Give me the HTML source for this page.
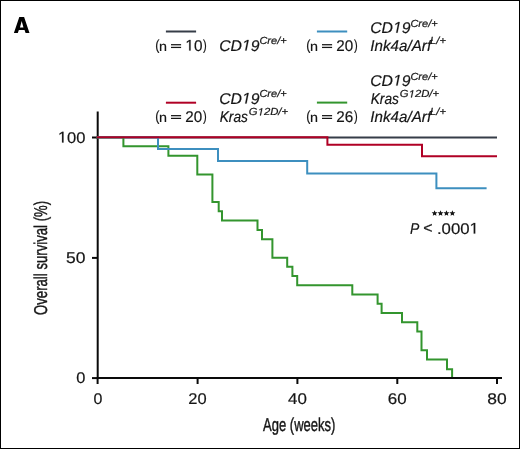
<!DOCTYPE html>
<html><head><meta charset="utf-8"><style>
html,body{margin:0;padding:0;background:#fff;}
body{width:520px;height:449px;overflow:hidden;}
svg{display:block;will-change:transform;}
text{font-family:"Liberation Sans",sans-serif;fill:#151515;text-rendering:geometricPrecision;stroke:#151515;stroke-width:0.2px;}
.ttl{stroke-width:0.4px;}
</style></head><body>
<svg width="520" height="449" viewBox="0 0 520 449">
<rect x="0" y="0" width="520" height="449" fill="#fff"/>
<rect x="0.5" y="0.5" width="519" height="448" fill="none" stroke="#000" stroke-width="1"/>
<path d="M13.9 33 L19.3 17 L24.1 17 L29.5 33 L25.6 33 L24.55 29.9 L18.85 29.9 L17.8 33 Z M21.7 20.9 L19.95 27.6 L23.45 27.6 Z" fill="#000" fill-rule="evenodd"/>
<g stroke-width="2" fill="none">
<path d="M165.9 31.5 H196.1" stroke="#363d48"/>
<path d="M316.9 31.5 H347.2" stroke="#3d8fbf"/>
<path d="M165.9 102.7 H196.1" stroke="#b00025"/>
<path d="M316.9 102.6 H347.2" stroke="#33952e"/>
</g>
<g stroke="#0a0a0a" stroke-width="2" fill="none">
<path d="M97.7 111.5 V379.1"/>
<path d="M92 137.5 H97.6"/>
<path d="M92 257.9 H97.6"/>
<path d="M92 378.1 H97.6"/>
</g>
<text class="ttl" transform="translate(263,430.8) scale(0.724,1.03)" font-size="18">Age (weeks)</text>
<text class="ttl" transform="translate(46.9,315.0) rotate(-90) scale(0.7317,1.03)" font-size="18">Overall survival (%)</text>
<g stroke-width="2" fill="none" stroke-linejoin="miter" stroke-linecap="butt">
<path d="M96.7 137.6 H497.0" stroke="#363d48"/>
<path d="M96.7 137.3 H123.4 V146.3 H168.4 V155.8 H197.3 V174.5 H212.4 V202.0 H218.7 V211.2 H222.0 V220.4 H257.5 V230.1 H262.0 V239.3 H272.4 V257.8 H287.2 V266.7 H292.4 V276.0 H297.2 V285.3 H352.3 V294.5 H377.6 V303.8 H381.6 V313.1 H402.0 V322.3 H417.3 V331.6 H421.5 V350.3 H427.0 V359.6 H447.0 V369.3 H452.1 V378.0" stroke="#33952e"/>
<path d="M96.7 137.3 H158.0 V149.0 H218.0 V161.0 H307.2 V173.4 H436.4 V188.3 H486.6" stroke="#3d8fbf"/>
<path d="M96.7 137.3 H327.4 V144.7 H422.0 V156.3 H497.0" stroke="#b00025"/>
</g>
<g stroke="#0a0a0a" stroke-width="2" fill="none">
<path d="M96.6 378.1 H502"/>
<path d="M97.6 378.1 V384"/>
<path d="M197.6 378.1 V384"/>
<path d="M297.4 378.1 V384"/>
<path d="M397.3 378.1 V384"/>
<path d="M497.0 378.1 V384"/>
</g>
<rect x="171.00" y="44.10" width="10.10" height="1.25" fill="#151515"/><rect x="171.00" y="46.80" width="10.10" height="1.25" fill="#151515"/><rect x="322.00" y="44.10" width="10.10" height="1.25" fill="#151515"/><rect x="322.00" y="46.80" width="10.10" height="1.25" fill="#151515"/><rect x="171.00" y="115.05" width="10.10" height="1.25" fill="#151515"/><rect x="171.00" y="117.75" width="10.10" height="1.25" fill="#151515"/><rect x="322.00" y="115.05" width="10.10" height="1.25" fill="#151515"/><rect x="322.00" y="117.75" width="10.10" height="1.25" fill="#151515"/>
<polygon points="434.60,210.20 435.45,212.13 437.55,212.34 435.98,213.75 436.42,215.81 434.60,214.75 432.78,215.81 433.22,213.75 431.65,212.34 433.75,212.13" fill="#151515"/><polygon points="440.53,210.20 441.38,212.13 443.48,212.34 441.91,213.75 442.35,215.81 440.53,214.75 438.71,215.81 439.15,213.75 437.58,212.34 439.68,212.13" fill="#151515"/><polygon points="446.46,210.20 447.31,212.13 449.41,212.34 447.84,213.75 448.28,215.81 446.46,214.75 444.64,215.81 445.08,213.75 443.51,212.34 445.61,212.13" fill="#151515"/><polygon points="452.39,210.20 453.24,212.13 455.34,212.34 453.77,213.75 454.21,215.81 452.39,214.75 450.57,215.81 451.01,213.75 449.44,212.34 451.54,212.13" fill="#151515"/>
<g id="t0" transform="translate(155.137,49.750) scale(0.8025,0.94)"><text style="font-size:15.5px;">(</text></g>
<g id="t1" transform="translate(159.029,50.550) scale(0.9271,0.86)"><text style="font-size:15.5px;">n</text></g>
<g id="t2" transform="translate(185.356,50.550) scale(0.9894,1.0)"><text style="font-size:15.5px;"> 0</text><path d="M515 0 L515 1237 L197 1010 L197 1180 L530 1409 L696 1409 L696 0 Z" transform="translate(0.000,0) scale(0.00757,-0.00757)" fill="#151515" stroke="#151515" stroke-width="0.2" vector-effect="non-scaling-stroke"/></g>
<g id="t3" transform="translate(202.937,49.750) scale(0.7206,0.94)"><text style="font-size:15.5px;">)</text></g>
<g id="t4" transform="translate(219.195,50.550) scale(1.0186,1.0)"><text style="font-size:15.5px;font-style:italic;">CD 9</text><path d="M412.3 0 L650 1223 L289 1000 L324 1180 L701 1409 L867 1409 L593.3 0 Z" transform="translate(22.387,0) scale(0.00757,-0.00757)" fill="#151515" stroke="#151515" stroke-width="0.2" vector-effect="non-scaling-stroke"/></g>
<g id="t5" transform="translate(259.396,44.450) scale(1.0715,1.0)"><text style="font-size:10.3px;font-style:italic;">Cre/+</text></g>
<g id="t6" transform="translate(306.137,49.750) scale(0.8025,0.94)"><text style="font-size:15.5px;">(</text></g>
<g id="t7" transform="translate(310.029,50.550) scale(0.9271,0.86)"><text style="font-size:15.5px;">n</text></g>
<g id="t8" transform="translate(336.363,50.550) scale(0.9807,1.0)"><text style="font-size:15.5px;">20</text></g>
<g id="t9" transform="translate(353.937,49.750) scale(0.7206,0.94)"><text style="font-size:15.5px;">)</text></g>
<g id="t10" transform="translate(370.195,32.650) scale(1.0186,1.0)"><text style="font-size:15.5px;font-style:italic;">CD 9</text><path d="M412.3 0 L650 1223 L289 1000 L324 1180 L701 1409 L867 1409 L593.3 0 Z" transform="translate(22.387,0) scale(0.00757,-0.00757)" fill="#151515" stroke="#151515" stroke-width="0.2" vector-effect="non-scaling-stroke"/></g>
<g id="t11" transform="translate(410.396,26.550) scale(1.0715,1.0)"><text style="font-size:10.3px;font-style:italic;">Cre/+</text></g>
<g id="t12" transform="translate(370.364,50.550) scale(0.9790,1.0)"><text style="font-size:15.5px;font-style:italic;">Ink4a/Arf</text></g>
<g id="t13" transform="translate(430.095,44.450) scale(1.0843,1.0)"><text style="font-size:10.3px;font-style:italic;">L/+</text></g>
<g id="t14" transform="translate(155.137,120.700) scale(0.8025,0.94)"><text style="font-size:15.5px;">(</text></g>
<g id="t15" transform="translate(159.029,121.500) scale(0.9271,0.86)"><text style="font-size:15.5px;">n</text></g>
<g id="t16" transform="translate(185.363,121.500) scale(0.9807,1.0)"><text style="font-size:15.5px;">20</text></g>
<g id="t17" transform="translate(202.937,120.700) scale(0.7206,0.94)"><text style="font-size:15.5px;">)</text></g>
<g id="t18" transform="translate(219.195,103.550) scale(1.0186,1.0)"><text style="font-size:15.5px;font-style:italic;">CD 9</text><path d="M412.3 0 L650 1223 L289 1000 L324 1180 L701 1409 L867 1409 L593.3 0 Z" transform="translate(22.387,0) scale(0.00757,-0.00757)" fill="#151515" stroke="#151515" stroke-width="0.2" vector-effect="non-scaling-stroke"/></g>
<g id="t19" transform="translate(259.396,97.450) scale(1.0715,1.0)"><text style="font-size:10.3px;font-style:italic;">Cre/+</text></g>
<g id="t20" transform="translate(219.634,121.500) scale(0.8874,1.0)"><text style="font-size:15.5px;font-style:italic;">Kras</text></g>
<g id="t21" transform="translate(248.858,115.400) scale(1.0961,1.0)"><text style="font-size:10.3px;font-style:italic;">G 2D/+</text><path d="M412.3 0 L650 1223 L289 1000 L324 1180 L701 1409 L867 1409 L593.3 0 Z" transform="translate(8.012,0) scale(0.00503,-0.00503)" fill="#151515" stroke="#151515" stroke-width="0.2" vector-effect="non-scaling-stroke"/></g>
<g id="t22" transform="translate(306.137,120.700) scale(0.8025,0.94)"><text style="font-size:15.5px;">(</text></g>
<g id="t23" transform="translate(310.029,121.500) scale(0.9271,0.86)"><text style="font-size:15.5px;">n</text></g>
<g id="t24" transform="translate(336.352,121.500) scale(0.9832,1.0)"><text style="font-size:15.5px;">26</text></g>
<g id="t25" transform="translate(353.937,120.700) scale(0.7206,0.94)"><text style="font-size:15.5px;">)</text></g>
<g id="t26" transform="translate(370.195,85.600) scale(1.0186,1.0)"><text style="font-size:15.5px;font-style:italic;">CD 9</text><path d="M412.3 0 L650 1223 L289 1000 L324 1180 L701 1409 L867 1409 L593.3 0 Z" transform="translate(22.387,0) scale(0.00757,-0.00757)" fill="#151515" stroke="#151515" stroke-width="0.2" vector-effect="non-scaling-stroke"/></g>
<g id="t27" transform="translate(410.396,79.500) scale(1.0715,1.0)"><text style="font-size:10.3px;font-style:italic;">Cre/+</text></g>
<g id="t28" transform="translate(370.634,103.550) scale(0.8874,1.0)"><text style="font-size:15.5px;font-style:italic;">Kras</text></g>
<g id="t29" transform="translate(399.858,97.450) scale(1.0961,1.0)"><text style="font-size:10.3px;font-style:italic;">G 2D/+</text><path d="M412.3 0 L650 1223 L289 1000 L324 1180 L701 1409 L867 1409 L593.3 0 Z" transform="translate(8.012,0) scale(0.00503,-0.00503)" fill="#151515" stroke="#151515" stroke-width="0.2" vector-effect="non-scaling-stroke"/></g>
<g id="t30" transform="translate(370.364,121.500) scale(0.9790,1.0)"><text style="font-size:15.5px;font-style:italic;">Ink4a/Arf</text></g>
<g id="t31" transform="translate(430.095,115.400) scale(1.0843,1.0)"><text style="font-size:10.3px;font-style:italic;">L/+</text></g>
<g id="t32" transform="translate(57.884,142.500) scale(1.0666,1.0)"><text style="font-size:15.5px;"> 00</text><path d="M515 0 L515 1237 L197 1010 L197 1180 L530 1409 L696 1409 L696 0 Z" transform="translate(0.000,0) scale(0.00757,-0.00757)" fill="#151515" stroke="#151515" stroke-width="0.2" vector-effect="non-scaling-stroke"/></g>
<g id="t33" transform="translate(66.065,262.900) scale(1.1284,1.0)"><text style="font-size:15.5px;">50</text></g>
<g id="t34" transform="translate(76.366,382.900) scale(1.0581,1.0)"><text style="font-size:15.5px;">0</text></g>
<g id="t35" transform="translate(93.476,404.000) scale(1.0296,1.0)"><text style="font-size:15.5px;">0</text></g>
<g id="t36" transform="translate(188.365,404.000) scale(1.0621,1.0)"><text style="font-size:15.5px;">20</text></g>
<g id="t37" transform="translate(287.988,404.000) scale(1.0907,1.0)"><text style="font-size:15.5px;">40</text></g>
<g id="t38" transform="translate(387.731,404.000) scale(1.0948,1.0)"><text style="font-size:15.5px;">60</text></g>
<g id="t39" transform="translate(487.342,404.000) scale(1.1241,1.0)"><text style="font-size:15.5px;">80</text></g>
<g id="t40" transform="translate(410.076,233.500) scale(0.8996,1.0)"><text style="font-size:15.5px;font-style:italic;">P</text></g>
<g id="t41" transform="translate(423.292,233.100) scale(1.0320,1.0)"><text style="font-size:15.5px;">&lt;</text></g>
<g id="t42" transform="translate(436.903,233.600) scale(1.0813,1.0)"><text style="font-size:15.5px;">.000 </text><path d="M515 0 L515 1237 L197 1010 L197 1180 L530 1409 L696 1409 L696 0 Z" transform="translate(30.167,0) scale(0.00757,-0.00757)" fill="#151515" stroke="#151515" stroke-width="0.2" vector-effect="non-scaling-stroke"/></g>
</svg>
</body></html>
